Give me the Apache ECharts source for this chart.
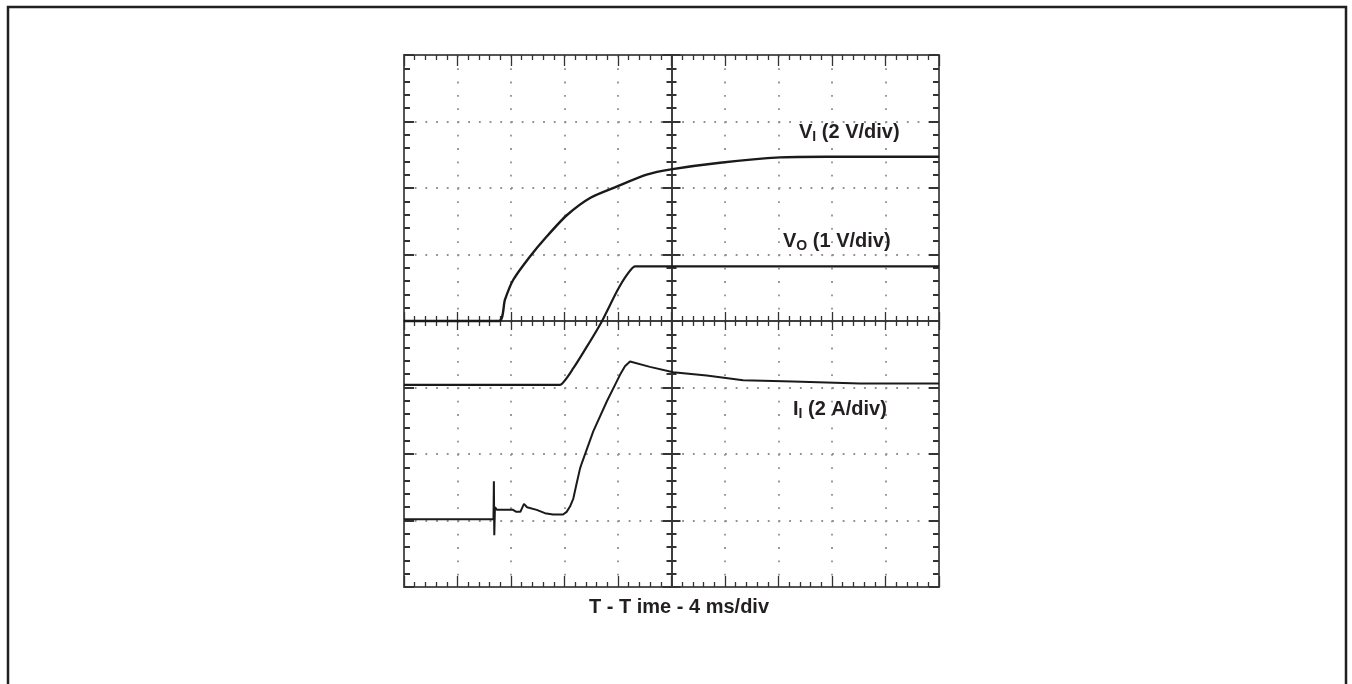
<!DOCTYPE html>
<html>
<head>
<meta charset="utf-8">
<script src="https://cdn.jsdelivr.net/npm/echarts@6/dist/echarts.min.js"></script>
<style>
html, body { margin: 0; padding: 0; background: #fff; }
#scope { width: 1352px; height: 684px; }
</style>
</head>
<body>
<div id="scope"></div>
<script>
// time in ms relative to screen centre (4 ms/div), values in divisions
var viTime = [-20, -12.9, -12.45, -11.83, -10.58, -9.33, -7.83, -6.09, -4.1, -1.86, -0.04, 3.63, 8.11, 11.6, 20]
var viDiv = [0, 0, 0.32, 0.62, 0.97, 1.27, 1.59, 1.85, 2.02, 2.2, 2.28, 2.38, 2.46, 2.47, 2.47]

var voTime = [-20, -8.34, -7.34, -6.34, -5.22, -4.1, -3.35, -2.73, 20]
var voDiv = [-0.96, -0.96, -0.71, -0.39, -0.01, 0.44, 0.69, 0.82, 0.82]

var iiTime = [-20, -13.31, -13.28, -13.25, -13.2, -13.05, -11.85, -11.6, -11.3, -11.03, -10.8, -10.08, -9.46, -8.86, -8.11, -7.84, -7.59, -7.34, -7.09, -6.84, -6.71, -5.85, -4.84, -3.85, -3.48, -3.1, -1.61, 0.13, 2.63, 5.35, 9.08, 14.09, 20]
var iiDiv = [-2.98, -2.98, -2.41, -3.22, -2.8, -2.84, -2.84, -2.87, -2.87, -2.75, -2.8, -2.84, -2.89, -2.91, -2.91, -2.87, -2.79, -2.67, -2.44, -2.22, -2.14, -1.66, -1.21, -0.81, -0.68, -0.61, -0.69, -0.77, -0.82, -0.89, -0.91, -0.94, -0.94]

var traceLabels = ['{m|V}{s|I}{m| (2 V/div)}', '{m|V}{s|O}{m| (1 V/div)}', '{m|I}{s|I}{m| (2 A/div)}']
var xTitle = 'T - T ime - 4 ms/div'

function pairs(t, v) {
	var arr = []
	for(var i = 0; i < t.length; i ++) arr.push([t[i], v[i]])
	return arr
}

var ink = '#231f20'
var frameColor = '#555'
var font = 'Liberation Sans, Arial, sans-serif'
var richText = {
	m: { fontSize: 20, fontWeight: 'bold', color: ink, fontFamily: font, lineHeight: 22 },
	s: { fontSize: 14, fontWeight: 'bold', color: ink, fontFamily: font, lineHeight: 22, padding: [11, 0, 0, 0] }
}

// frame axis (edge of screen) / centre axis (crosshair)
function xAx(pos, onZero, inside, split) {
	return {
		type: 'value', min: -20, max: 20, interval: 4, position: pos,
		axisLine: { show: true, onZero: onZero, onZeroAxisIndex: 0, lineStyle: { color: onZero ? '#333' : frameColor, width: onZero ? 1.5 : 2 } },
		axisTick: { show: true, inside: inside, length: onZero ? 9 : 11, lineStyle: { color: '#333', width: 1.3 } },
		minorTick: { show: true, splitNumber: 5, length: 5, lineStyle: { color: '#333', width: 1.3 } },
		axisLabel: { show: false },
		splitLine: { show: split, lineStyle: { color: '#909090', width: 1.8, type: [1.8, 11.5] } }
	}
}
function yAx(pos, onZero, inside, split) {
	return {
		type: 'value', min: -4, max: 4, interval: 1, position: pos,
		axisLine: { show: true, onZero: onZero, onZeroAxisIndex: 0, lineStyle: { color: onZero ? '#333' : frameColor, width: onZero ? 1.5 : 2 } },
		axisTick: { show: true, inside: inside, length: onZero ? 9 : 10, lineStyle: { color: '#333', width: 2 } },
		minorTick: { show: true, splitNumber: 5, length: onZero ? 5 : 6, lineStyle: { color: '#333', width: 2 } },
		axisLabel: { show: false },
		splitLine: { show: split, lineStyle: { color: '#909090', width: 1.8, type: [1.8, 8.9] } }
	}
}

var chart = echarts.init(document.getElementById('scope'))
var option = {
	backgroundColor: '#fff',
	animation: false,
	title: [
		{ text: traceLabels[0], left: 799, top: 121, padding: 0, textStyle: { rich: richText } },
		{ text: traceLabels[1], left: 783, top: 230, padding: 0, textStyle: { rich: richText } },
		{ text: traceLabels[2], left: 793, top: 398, padding: 0, textStyle: { rich: richText } },
		{ text: xTitle, left: 589, top: 597, padding: 0, textStyle: { fontSize: 20, fontWeight: 'bold', color: ink, fontFamily: font } }
	],
	graphic: [{
		type: 'rect', silent: true,
		shape: { x: 8, y: 7, width: 1338, height: 720 },
		style: { fill: null, stroke: ink, lineWidth: 2.5 }
	}],
	grid: { left: 404, top: 55, width: 535, height: 532 },
	xAxis: [
		xAx('bottom', false, true, true),
		xAx('top', false, true, false),
		xAx('bottom', true, true, false),
		xAx('bottom', true, false, false)
	],
	yAxis: [
		yAx('left', false, true, true),
		yAx('right', false, true, false),
		yAx('left', true, true, false),
		yAx('left', true, false, false)
	],
	series: [
		{ name: 'VI', type: 'line', data: pairs(viTime, viDiv), showSymbol: false, smooth: 0.25, lineStyle: { color: '#1a1a1a', width: 2.4 } },
		{ name: 'VO', type: 'line', data: pairs(voTime, voDiv), showSymbol: false, smooth: 0.15, lineStyle: { color: '#1a1a1a', width: 2.2 } },
		{ name: 'II', type: 'line', data: pairs(iiTime, iiDiv), showSymbol: false, lineStyle: { color: '#1a1a1a', width: 2 } }
	]
}
chart.setOption(option)
</script>
</body>
</html>
